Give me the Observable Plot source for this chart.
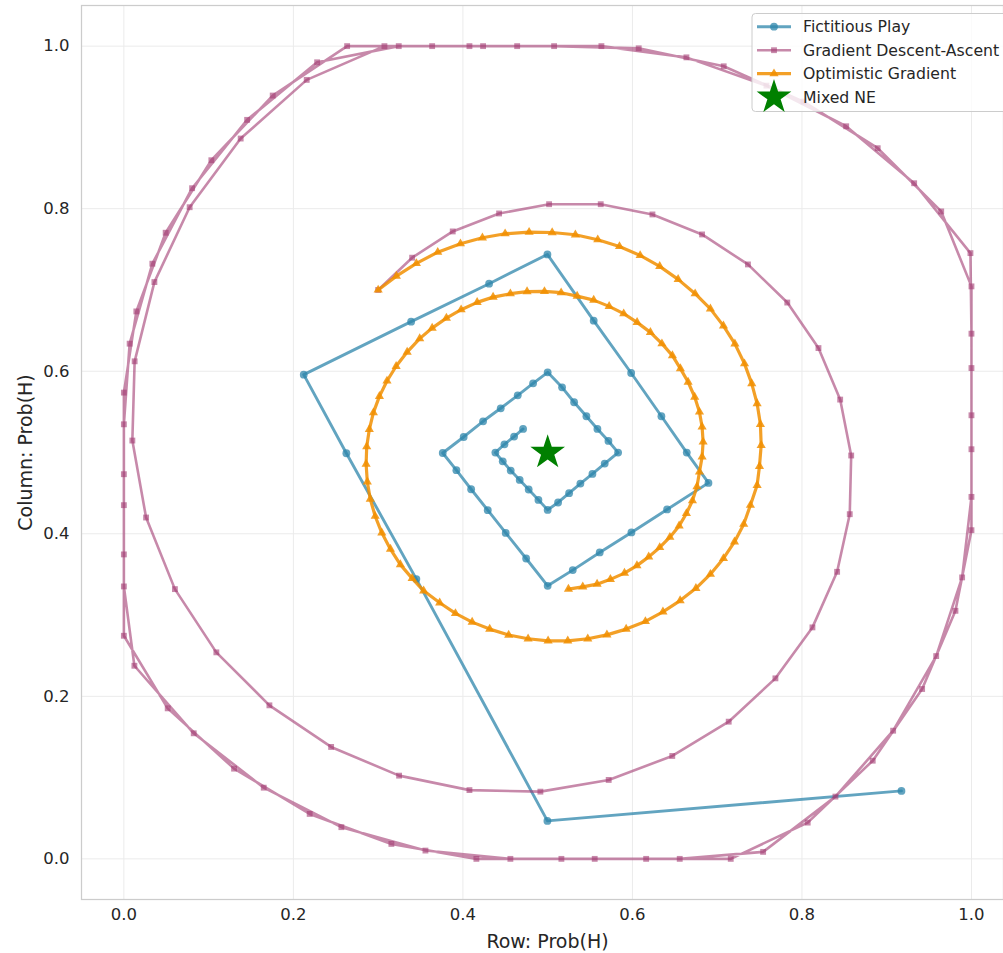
<!DOCTYPE html>
<html><head><meta charset="utf-8">
<script src="https://cdn.jsdelivr.net/npm/d3@7"></script>
<script src="https://cdn.jsdelivr.net/npm/@observablehq/plot@0.6"></script>
<style>html,body{margin:0;padding:0;background:#fff;} svg{display:block}</style>
</head><body><div id="chart"></div>
<script>
// ---- Data ----
const tickValues = [0, 0.2, 0.4, 0.6, 0.8, 1.0];
const seriesNames = ["Fictitious Play", "Gradient Descent-Ascent", "Optimistic Gradient", "Mixed NE"];

const fpX = [0.9174,0.4997,0.3451,0.2625,0.2122,0.3389,0.4309,0.4997,0.5543,0.5985,0.6342,0.6641,0.6897,0.6409,0.5988,0.5614,0.5296,0.5000,0.4746,0.4505,0.4293,0.4097,0.3923,0.3762,0.4009,0.4238,0.4446,0.4647,0.4828,0.5000,0.5170,0.5312,0.5457,0.5587,0.5717,0.5831,0.5673,0.5528,0.5386,0.5253,0.5123,0.5000,0.4891,0.4776,0.4670,0.4564,0.4470,0.4383,0.4490,0.4604,0.4710];
const fpY = [0.0836,0.0467,0.3442,0.4991,0.5958,0.6610,0.7077,0.7437,0.6622,0.5978,0.5446,0.4999,0.4626,0.4299,0.4016,0.3770,0.3553,0.3360,0.3696,0.4011,0.4290,0.4548,0.4782,0.4994,0.5191,0.5384,0.5544,0.5704,0.5851,0.5986,0.5802,0.5618,0.5446,0.5290,0.5142,0.4999,0.4864,0.4736,0.4618,0.4499,0.4385,0.4294,0.4417,0.4545,0.4663,0.4778,0.4892,0.4999,0.5101,0.5196,0.5290];

const gdaX = [0.300,0.3401,0.3880,0.4427,0.5017,0.5626,0.6236,0.6822,0.7363,0.7827,0.8195,0.8451,0.8581,0.8564,0.8415,0.8124,0.7687,0.7136,0.6470,0.5720,0.4914,0.4077,0.3247,0.2445,0.1717,0.1091,0.0602,0.0262,0.0100,0.0127,0.0360,0.0776,0.1378,0.2157,0.3074,
  0.4077,0.5076,0.6074,0.7077,0.8018,0.8894,0.9643,1.0,1.0,1.0,1.0,0.9811,0.9418,0.8835,0.8068,0.7160,0.6162,0.5162,0.4159,0.3156,0.2192,0.1300,0.0517,0.0,
  0.0,0.0,0.0,0.0147,0.0493,0.1032,0.1756,0.2634,0.3637,0.4640,0.5634,0.6637,0.7581,0.8522,0.9324,0.9988,1.0,1.0,1.0,0.9890,0.9584,0.9076,0.8395,0.7542,0.6558,0.5555,0.4560,0.3558,0.2566,0.1650,0.0824,0.0124,
  0.0,0.0,0.0,0.0068,0.0336,0.0805,0.1454,0.2280,0.3243,0.4238];
const gdaY = [0.700,0.7397,0.7720,0.7941,0.8055,0.8055,0.7929,0.7683,0.7314,0.6845,0.6285,0.5651,0.4963,0.4241,0.3532,0.2848,0.2221,0.1688,0.1266,0.0971,0.0827,0.0846,0.1024,0.1377,0.1889,0.2541,0.3319,0.4200,0.5147,0.6122,0.7097,0.8018,0.8863,0.9585,1.0,
  1.0,1.0,0.9973,0.9752,0.9318,0.8744,0.7966,0.7044,0.6039,0.5040,0.4044,0.3052,0.2090,0.1208,0.0446,0.0,0.0,0.0,0.0,0.0184,0.0553,0.1110,0.1852,0.2745,
  0.3746,0.4733,0.5737,0.6736,0.7704,0.8596,0.9392,1.0,1.0,1.0,1.0,0.9862,0.9514,0.9014,0.8313,0.7453,0.6462,0.5458,0.4454,0.3463,0.2495,0.1577,0.0766,0.0086,0.0,0.0,0.0,0.0102,0.0390,0.0876,0.1545,0.2376,
  0.3352,0.4352,0.5347,0.6339,0.7323,0.8252,0.9093,0.9801,1.0,1.0];

const ogX = [0.300,0.3215,0.3451,0.3703,0.3971,0.4230,0.4498,0.4781,0.5053,0.5327,0.5591,0.5847,0.6091,0.6322,0.6539,0.6740,0.6920,0.7074,0.7209,0.7322,0.7408,0.7471,0.7510,0.7519,0.7499,0.7471,0.7392,0.7313,0.7204,0.7074,0.6920,0.6749,0.6563,0.6360,0.6153,0.5926,0.5699,0.5473,0.5237,0.5005,0.4769,0.4540,0.4316,0.4109,0.3912,0.3726,0.3537,0.3401,0.3262,0.3145,0.3043,0.2965,0.2907,0.2872,0.2858,0.2865,0.2896,0.2944,0.3015,0.3104,0.3212,0.3342,0.3490,0.3637,0.3805,0.3979,0.4168,0.4356,0.4560,0.4757,0.4962,0.5159,0.5348,0.5543,0.5725,0.5897,0.6055,0.6212,0.6348,0.6472,0.6566,0.6657,0.6735,0.6791,0.6822,0.6834,0.6822,0.6791,0.6761,0.6708,0.6637,0.6551,0.6442,0.6322,0.6192,0.6053,0.5906,0.5740,0.5583,0.5414,0.5245];
const ogY = [0.700,0.7170,0.7326,0.7465,0.7569,0.7642,0.7692,0.7711,0.7707,0.7679,0.7618,0.7535,0.7425,0.7290,0.7130,0.6954,0.6767,0.6558,0.6337,0.6093,0.5848,0.5602,0.5347,0.5089,0.4831,0.4597,0.4352,0.4118,0.3900,0.3696,0.3503,0.3329,0.3178,0.3039,0.2921,0.2827,0.2756,0.2708,0.2683,0.2683,0.2708,0.2754,0.2827,0.2913,0.3020,0.3151,0.3298,0.3451,0.3620,0.3811,0.4012,0.4216,0.4427,0.4640,0.4858,0.5071,0.5285,0.5490,0.5691,0.5880,0.6061,0.6236,0.6401,0.6531,0.6654,0.6757,0.6847,0.6912,0.6954,0.6979,0.6982,0.6966,0.6924,0.6875,0.6798,0.6708,0.6601,0.6478,0.6339,0.6192,0.6032,0.5867,0.5683,0.5499,0.5314,0.5130,0.4945,0.4761,0.4579,0.4407,0.4250,0.4097,0.3958,0.3832,0.3716,0.3608,0.3516,0.3439,0.3380,0.3347,0.3319];

const neX = [0.5], neY = [0.5];

// ---- Styles ----
const colors = {fp: "#2E86AB", gda: "#A23B72", og: "#F18F01", ne: "#008000"};
const alpha = {fp: 0.75, gda: 0.6, og: 0.85};
const sizes = {fp: 3.9, gda: 3.3, og: 3.4, ne: 10.9};
const widths = {fp: 2.9, gda: 2.6, og: 3.2};

const toRows = (xs, ys) => xs.map((x, i) => ({x, y: ys[i]}));
const fp = toRows(fpX, fpY), gda = toRows(gdaX, gdaY), og = toRows(ogX, ogY), ne = toRows(neX, neY);
const fmt = d => d.toFixed(1);

const svg = Plot.plot({
  width: 1003, height: 953,
  marginLeft: 81, marginRight: 0, marginTop: 5, marginBottom: 54,
  x: {domain: [-0.05, 1.0378]},
  y: {domain: [-0.05, 1.05]},
  style: {fontFamily: "'DejaVu Sans', sans-serif", background: "#fff", color: "#262626"},
  marks: [
    Plot.gridX(tickValues, {stroke: "#ebebeb", strokeOpacity: 1, strokeWidth: 1}),
    Plot.gridY(tickValues, {stroke: "#ebebeb", strokeOpacity: 1, strokeWidth: 1}),
    Plot.frame({stroke: "#cccccc", strokeWidth: 1.25}),
    Plot.axisX(tickValues, {tickSize: 0, tickPadding: 9, fontSize: 16.5, tickFormat: fmt, label: null}),
    Plot.axisY(tickValues, {tickSize: 0, tickPadding: 12, fontSize: 16.5, tickFormat: fmt, label: null}),
    Plot.text(["Row: Prob(H)"], {frameAnchor: "bottom", textAnchor: "middle", dx: 5, dy: 48, fontSize: 19, fill: "#262626"}),
    Plot.text(["Column: Prob(H)"], {frameAnchor: "left", textAnchor: "middle", lineAnchor: "middle", dx: -56, rotate: -90, fontSize: 19, fill: "#262626"}),
    Plot.line(fp, {x: "x", y: "y", stroke: colors.fp, strokeWidth: widths.fp, strokeOpacity: alpha.fp}),
    Plot.dot(fp, {x: "x", y: "y", r: sizes.fp, fill: colors.fp, fillOpacity: alpha.fp, stroke: "none"}),
    Plot.line(gda, {x: "x", y: "y", stroke: colors.gda, strokeWidth: widths.gda, strokeOpacity: alpha.gda}),
    Plot.dot(gda, {x: "x", y: "y", symbol: "square", r: sizes.gda, fill: colors.gda, fillOpacity: alpha.gda, stroke: "none"}),
    Plot.line(og, {x: "x", y: "y", stroke: colors.og, strokeWidth: widths.og, strokeOpacity: alpha.og}),
    Plot.dot(og, {x: "x", y: "y", symbol: "triangle", r: sizes.og, fill: colors.og, fillOpacity: alpha.og, stroke: "none"}),
    Plot.dot(ne, {x: "x", y: "y", symbol: "star", r: sizes.ne, fill: colors.ne, stroke: "none"})
  ]
});

// ---- Legend (drawn into the same SVG) ----
const leg = d3.select(svg).append("g").attr("font-family", "'DejaVu Sans', sans-serif").attr("text-anchor", "start");
leg.append("rect").attr("x", 752).attr("y", 13.5).attr("width", 270).attr("height", 98).attr("rx", 3.5)
  .attr("fill", "#fff").attr("fill-opacity", 0.8).attr("stroke", "#cccccc").attr("stroke-width", 1);
const items = [
  {name: seriesNames[0], c: colors.fp, a: alpha.fp, sym: d3.symbolCircle, r: sizes.fp, lw: widths.fp},
  {name: seriesNames[1], c: colors.gda, a: alpha.gda, sym: d3.symbolSquare, r: sizes.gda, lw: widths.gda},
  {name: seriesNames[2], c: colors.og, a: alpha.og, sym: d3.symbolTriangle, r: sizes.og, lw: widths.og},
  {name: seriesNames[3], c: colors.ne, a: 1, sym: d3.symbolStar, r: sizes.ne, lw: 0}
];
items.forEach((it, i) => {
  const cy = 26.7 + i * 23.5;
  const g = leg.append("g");
  if (it.lw > 0) g.append("line").attr("x1", 757).attr("x2", 791).attr("y1", cy).attr("y2", cy)
    .attr("stroke", it.c).attr("stroke-width", it.lw).attr("stroke-opacity", it.a);
  g.append("path").attr("d", d3.symbol(it.sym, Math.PI * it.r * it.r)()).attr("transform", `translate(774,${cy})`)
    .attr("fill", it.c).attr("fill-opacity", it.a);
  g.append("text").attr("x", 803).attr("y", cy).attr("dy", "0.35em").attr("font-size", 15.7)
    .attr("text-anchor", "start").attr("fill", "#262626").text(it.name);
});

document.getElementById("chart").appendChild(svg);
</script>
</body></html>
